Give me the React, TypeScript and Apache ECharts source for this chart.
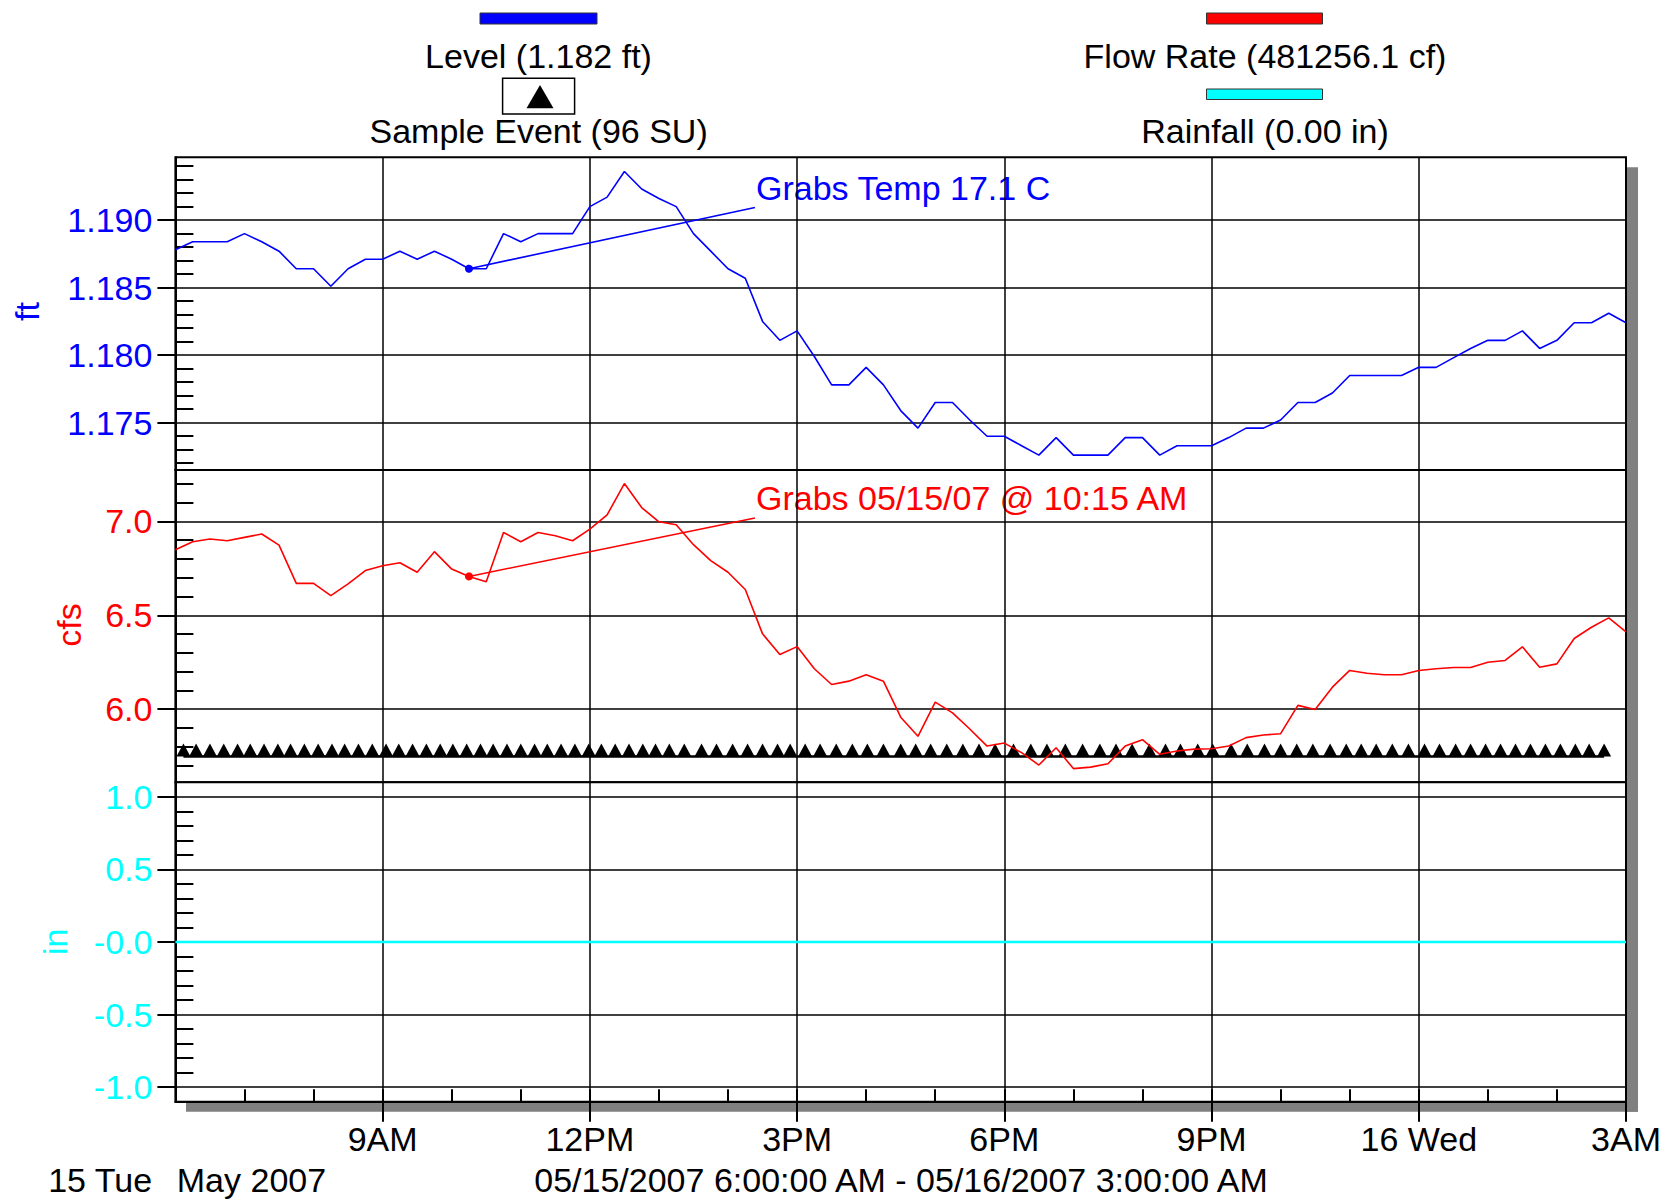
import React, { useEffect, useRef } from 'react';
import * as echarts from 'echarts';

// ---------- data (15-minute readings starting 05/15/2007 6:00 AM) ----------
const stepHours = 0.25;
const levelFt = [
  1.1878, 1.1884, 1.1884, 1.1884, 1.189, 1.1884, 1.1877, 1.1864, 1.1864, 1.1851,
  1.1864, 1.1871, 1.1871, 1.1877, 1.1871, 1.1877, 1.1871, 1.1864, 1.1864, 1.189,
  1.1884, 1.189, 1.189, 1.189, 1.191, 1.1917, 1.1936, 1.1923, 1.1916, 1.191,
  1.189, 1.1877, 1.1864, 1.1857, 1.1825, 1.1811, 1.1818, 1.1799, 1.1778, 1.1778,
  1.1791, 1.1778, 1.1759, 1.1746, 1.1765, 1.1765, 1.1752, 1.174, 1.174, 1.1733,
  1.1726, 1.1739, 1.1726, 1.1726, 1.1726, 1.1739, 1.1739, 1.1726, 1.1733, 1.1733,
  1.1733, 1.1739, 1.1746, 1.1746, 1.1752, 1.1765, 1.1765, 1.1772, 1.1785, 1.1785,
  1.1785, 1.1785, 1.1791, 1.1791, 1.1798, 1.1805, 1.1811, 1.1811, 1.1818, 1.1805,
  1.1811, 1.1824, 1.1824, 1.1831, 1.1824,
];
const flowCfs = [
  6.849, 6.892, 6.906, 6.897, 6.915, 6.933, 6.874, 6.67, 6.67, 6.605,
  6.667, 6.738, 6.764, 6.78, 6.729, 6.839, 6.746, 6.707, 6.679, 6.941,
  6.892, 6.941, 6.924, 6.897, 6.959, 7.035, 7.202, 7.074, 6.998, 6.982,
  6.876, 6.791, 6.729, 6.637, 6.401, 6.291, 6.333, 6.215, 6.131, 6.149,
  6.183, 6.149, 5.957, 5.855, 6.037, 5.98, 5.894, 5.803, 5.819, 5.768,
  5.702, 5.794, 5.683, 5.691, 5.709, 5.803, 5.837, 5.759, 5.777, 5.787,
  5.789, 5.803, 5.848, 5.862, 5.869, 6.02, 5.998, 6.117, 6.206, 6.191,
  6.183, 6.183, 6.206, 6.215, 6.222, 6.222, 6.25, 6.259, 6.332, 6.223,
  6.241, 6.376, 6.436, 6.486, 6.411,
];
// hourly rainfall (in), 6 AM .. 3 AM
const rainIn = [0, 0, 0, 0, 0, 0, 0, 0, 0, 0, 0, 0, 0, 0, 0, 0, 0, 0, 0, 0, 0, 0];
// sample events, minutes after 6:00 AM (96 samples)
const sampleMinutes = [
  7, 18, 30, 42, 54, 65, 77, 89, 100, 112, 124, 136, 147, 159, 171, 183, 194, 206, 218, 230,
  241, 253, 265, 276, 288, 300, 312, 323, 335, 347, 359, 370, 382, 394, 406, 417, 429, 442,
  457, 470, 484, 497, 510, 523, 534, 547, 560, 574, 588, 601, 615, 630, 643, 656, 670, 684,
  698, 712, 728, 743, 757, 773, 788, 803, 817, 831, 846, 860, 873,
  888, 901, 917, 931, 946, 960, 974, 988, 1003, 1017, 1030, 1043, 1057, 1071, 1085, 1098,
  1112, 1125, 1138, 1151, 1164, 1177, 1190, 1203, 1216, 1228, 1241,
];
const grabIndex = 17; // 10:15 AM

// ---------- axis ticks / labels ----------
const xTickLabels = ['', '9AM', '12PM', '3PM', '6PM', '9PM', '16 Wed', '3AM'];
const xMajorTicks = [3, 6, 9, 12, 15, 18, 21];
const levelTicks = [1.175, 1.18, 1.185, 1.19];
const levelTickLabels = ['1.175', '1.180', '1.185', '1.190'];
const levelMinorTicks = [1.172, 1.173, 1.174, 1.176, 1.177, 1.178, 1.179, 1.181, 1.182, 1.183, 1.184,
  1.186, 1.187, 1.188, 1.189, 1.191, 1.192, 1.193, 1.194];
const flowTicks = [6.0, 6.5, 7.0];
const flowTickLabels = ['6.0', '6.5', '7.0'];
const flowMinorTicks = [5.7, 5.8, 5.9, 6.1, 6.2, 6.3, 6.4, 6.6, 6.7, 6.8, 6.9, 7.1, 7.2];
const rainTicks = [-1.0, -0.5, 0, 0.5, 1.0];
const rainTickLabels = ['-1.0', '-0.5', '-0.0', '0.5', '1.0'];
const rainMinorTicks = [-0.9, -0.8, -0.7, -0.6, -0.4, -0.3, -0.2, -0.1, 0.1, 0.2, 0.3, 0.4, 0.6, 0.7, 0.8, 0.9];

// ---------- layout / style ----------
const FONT = '"Liberation Sans", Arial, Helvetica, sans-serif';
const FS = 34;
const BLUE = '#0000FF';
const RED = '#FF0000';
const CYAN = '#00FFFF';
const LEFT = 175.4;
const RIGHT = 41;
const levelRange = [1.1715, 1.19465];
const flowRange = [5.61, 7.274];
const rainRange = [-1.1, 1.1];
const sampleBaseCfs = 5.747;
const levelNoteEnd = [8.39, 1.19094];
const flowNoteEnd = [8.39, 7.018];

function labelFrom(ticks: number[], labels: string[]) {
  return (v: number) => {
    const k = ticks.findIndex((t) => Math.abs(t - v) < 1e-7);
    return k >= 0 ? labels[k] : '';
  };
}

function majorY(gridIndex: number, range: number[], ticks: number[], labels: string[], color: string) {
  return {
    type: 'value', gridIndex, min: range[0], max: range[1], position: 'left',
    axisLine: { show: true, onZero: false, lineStyle: { color: '#000', width: 2 } },
    axisTick: { show: true, inside: false, length: 18, customValues: ticks, lineStyle: { color: '#000', width: 2 } },
    axisLabel: {
      show: true, customValues: ticks, margin: 23, color, fontSize: FS, fontFamily: FONT,
      formatter: labelFrom(ticks, labels), showMinLabel: true, showMaxLabel: true,
    },
    splitLine: { show: true, lineStyle: { color: '#000', width: 1.5 } },
  };
}
function minorY(gridIndex: number, range: number[], ticks: number[]) {
  return {
    type: 'value', gridIndex, min: range[0], max: range[1], position: 'left',
    axisLine: { show: false, onZero: false },
    axisTick: { show: true, inside: true, length: 18, customValues: ticks, lineStyle: { color: '#000', width: 2 } },
    axisLabel: { show: false },
    splitLine: { show: false },
  };
}
function gridX(gridIndex: number) {
  return {
    type: 'value', gridIndex, min: 0, max: 21, interval: 3, position: 'bottom',
    axisLine: { show: false, onZero: false }, axisTick: { show: false }, axisLabel: { show: false },
    splitLine: { show: true, lineStyle: { color: '#000', width: 1.5 } },
  };
}

function txt(text: string, x: number, y: number, color: string, align = 'center', rotation = 0) {
  return {
    type: 'text', x, y, rotation, silent: true,
    style: { text, fill: color, fontSize: FS, fontFamily: FONT, align, verticalAlign: 'middle' },
  };
}

export default function App() {
  const ref = useRef<HTMLDivElement>(null);
  useEffect(() => {
    if (!ref.current) return;
    const chart = echarts.init(ref.current, undefined, { renderer: 'svg' });
    const gridBase = { left: LEFT, right: RIGHT, show: true, borderColor: '#000', borderWidth: 2, backgroundColor: '#fff' };
    const option: any = {
      animation: false,
      backgroundColor: '#fff',
      textStyle: { fontFamily: FONT },
      grid: [
        { ...gridBase, top: 157.3, height: 312.7 },
        { ...gridBase, top: 470, height: 312.3 },
        { ...gridBase, top: 782.3, height: 319.4 },
      ],
      xAxis: [
        gridX(0),
        gridX(1),
        {
          type: 'value', gridIndex: 2, min: 0, max: 21, interval: 3, position: 'bottom',
          axisLine: { show: true, onZero: false, lineStyle: { color: '#000', width: 2 } },
          axisTick: { show: true, inside: false, length: 20, customValues: xMajorTicks, lineStyle: { color: '#000', width: 2 } },
          axisLabel: {
            show: true, margin: 20, color: '#000', fontSize: FS, fontFamily: FONT,
            showMinLabel: true, showMaxLabel: true,
            formatter: (v: number) => xTickLabels[Math.round(v / 3)] ?? '',
          },
          splitLine: { show: true, lineStyle: { color: '#000', width: 1.5 } },
        },
        {
          type: 'value', gridIndex: 2, min: 0, max: 21, interval: 1, position: 'bottom',
          axisLine: { show: false, onZero: false },
          axisTick: { show: true, inside: true, length: 12.5, lineStyle: { color: '#000', width: 2 } },
          axisLabel: { show: false }, splitLine: { show: false },
        },
      ],
      yAxis: [
        majorY(0, levelRange, levelTicks, levelTickLabels, BLUE),
        minorY(0, levelRange, levelMinorTicks),
        majorY(1, flowRange, flowTicks, flowTickLabels, RED),
        minorY(1, flowRange, flowMinorTicks),
        majorY(2, rainRange, rainTicks, rainTickLabels, CYAN),
        minorY(2, rainRange, rainMinorTicks),
      ],
      series: [
        {
          name: 'Level', type: 'line', xAxisIndex: 0, yAxisIndex: 0, symbol: 'none', z: 3,
          data: levelFt.map((v, i) => [i * stepHours, v]),
          lineStyle: { color: BLUE, width: 1.6 },
          markLine: {
            silent: true, symbol: ['circle', 'none'], symbolSize: 8,
            lineStyle: { color: BLUE, width: 1.6, type: 'solid' },
            label: { show: false },
            data: [[{ coord: [grabIndex * stepHours, levelFt[grabIndex]] }, { coord: levelNoteEnd }]],
          },
        },
        {
          name: 'Sample Event', type: 'line', xAxisIndex: 1, yAxisIndex: 2, z: 1,
          data: sampleMinutes.map((m) => [m / 60, sampleBaseCfs]),
          symbol: 'triangle', symbolSize: [14, 13], symbolOffset: [0, -6.5], showAllSymbol: true,
          itemStyle: { color: '#000' },
          lineStyle: { color: '#000', width: 2.5 },
        },
        {
          name: 'Flow Rate', type: 'line', xAxisIndex: 1, yAxisIndex: 2, symbol: 'none', z: 3,
          data: flowCfs.map((v, i) => [i * stepHours, v]),
          lineStyle: { color: RED, width: 1.6 },
          markLine: {
            silent: true, symbol: ['circle', 'none'], symbolSize: 8,
            lineStyle: { color: RED, width: 1.6, type: 'solid' },
            label: { show: false },
            data: [[{ coord: [grabIndex * stepHours, flowCfs[grabIndex]] }, { coord: flowNoteEnd }]],
          },
        },
        {
          name: 'Rainfall', type: 'line', xAxisIndex: 2, yAxisIndex: 4, symbol: 'none', z: 3,
          data: rainIn.map((v, i) => [i, v]),
          lineStyle: { color: CYAN, width: 2.5 },
        },
      ],
      graphic: {
        elements: [
          // drop shadow of the plot frame
          { type: 'rect', z: -1, silent: true, shape: { x: 1627, y: 167.3, width: 11, height: 944.4 }, style: { fill: '#808080' } },
          { type: 'rect', z: -1, silent: true, shape: { x: 186, y: 1102.7, width: 1452, height: 9 }, style: { fill: '#808080' } },
          // legend
          { type: 'rect', silent: true, shape: { x: 480, y: 13, width: 117, height: 11 }, style: { fill: BLUE, stroke: '#333', lineWidth: 1 } },
          txt('Level (1.182 ft)', 538.5, 55.8, '#000'),
          { type: 'rect', silent: true, shape: { x: 502.6, y: 78.3, width: 72, height: 35.7 }, style: { fill: '#fff', stroke: '#000', lineWidth: 1.5 } },
          { type: 'polygon', silent: true, shape: { points: [[540, 85], [526.5, 108.3], [553.5, 108.3]] }, style: { fill: '#000' } },
          txt('Sample Event (96 SU)', 538.6, 131.3, '#000'),
          { type: 'rect', silent: true, shape: { x: 1206.5, y: 13, width: 116, height: 11 }, style: { fill: RED, stroke: '#333', lineWidth: 1 } },
          txt('Flow Rate (481256.1 cf)', 1265, 55.8, '#000'),
          { type: 'rect', silent: true, shape: { x: 1206.5, y: 89, width: 116, height: 10.5 }, style: { fill: CYAN, stroke: '#333', lineWidth: 1 } },
          txt('Rainfall (0.00 in)', 1265, 131.3, '#000'),
          // annotations
          txt('Grabs Temp 17.1 C', 756, 187.8, BLUE, 'left'),
          txt('Grabs 05/15/07 @ 10:15 AM', 756, 497.8, RED, 'left'),
          // axis names
          txt('ft', 26.6, 311.5, BLUE, 'center', Math.PI / 2),
          txt('cfs', 69, 625, RED, 'center', Math.PI / 2),
          txt('in', 55, 941.7, CYAN, 'center', Math.PI / 2),
          // date footer
          txt('15 Tue', 48.2, 1180, '#000', 'left'),
          txt('May 2007', 176.8, 1180, '#000', 'left'),
          txt('05/15/2007 6:00:00 AM - 05/16/2007 3:00:00 AM', 901, 1180, '#000'),
        ],
      },
    };
    chart.setOption(option);
    return () => chart.dispose();
  }, []);
  return (
    <div
      ref={ref}
      style={{ position: 'absolute', left: 0, top: 0, width: 1667, height: 1199, background: '#fff' }}
    />
  );
}
